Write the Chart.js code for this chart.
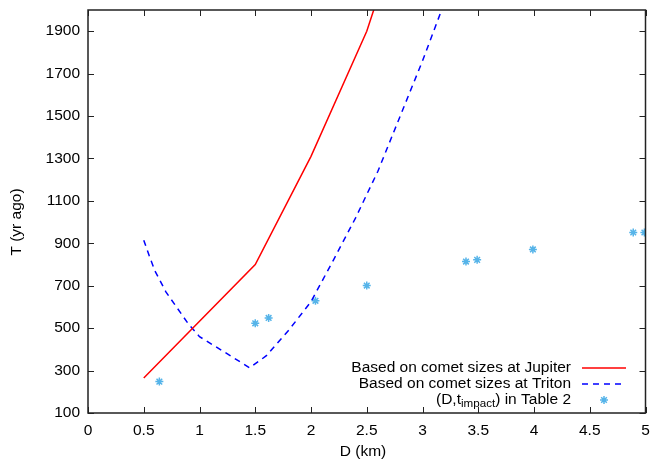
<!DOCTYPE html>
<html>
<head>
<meta charset="utf-8">
<script src="https://cdn.jsdelivr.net/npm/chart.js@4.4.0/dist/chart.umd.min.js"></script>
<style>
  html, body { margin: 0; padding: 0; background: #fff; }
  #wrap { width: 651px; height: 463px; }
</style>
</head>
<body>
<div id="wrap"><canvas id="chart" width="651" height="463"></canvas></div>
<script>
// tick labels
const xTicks = [0, 0.5, 1, 1.5, 2, 2.5, 3, 3.5, 4, 4.5, 5];
const yTicks = [100, 300, 500, 700, 900, 1100, 1300, 1500, 1700, 1900];

// Jupiter based curve
const jupiterD = [0.5, 1.5, 2.0, 2.5, 3.0];
const jupiterT = [265, 800, 1310, 1900, 2700];

// Triton based curve
const tritonD = [0.5, 0.55, 0.6, 0.7, 0.8, 0.9, 1.0, 1.2, 1.45, 1.6, 1.8, 2.0, 2.2, 2.4, 2.6, 2.8, 3.0, 3.2];
const tritonT = [915, 840, 770, 670, 595, 520, 460, 395, 313, 370, 490, 625, 820, 1020, 1240, 1500, 1760, 2040];

// (D, t_impact) from Table 2
const tableD = [0.64, 1.5, 1.62, 2.04, 2.5, 3.39, 3.49, 3.99, 4.89, 4.99];
const tableT = [248, 523, 548, 629, 701, 814, 822, 871, 951, 951];

const FONT = '"Liberation Sans", Arial, sans-serif';
const FS = 15.5;
const STAR = '#56b4e9';

const toXY = (xs, ys) => xs.map((x, i) => ({ x: x, y: ys[i] }));

// frame with inward ticks on all four sides, axis titles, legend
const framePlugin = {
  id: 'frame',
  afterDraw(chart) {
    const ctx = chart.ctx;
    const a = chart.chartArea;
    const xs = chart.scales.x, ys = chart.scales.y;
    ctx.save();
    ctx.strokeStyle = '#222';
    ctx.lineWidth = 1;
    ctx.beginPath();
    xTicks.forEach(v => {
      const px = Math.round(xs.getPixelForValue(v)) + 0.5;
      ctx.moveTo(px, a.bottom); ctx.lineTo(px, a.bottom - 6);
      ctx.moveTo(px, a.top); ctx.lineTo(px, a.top + 6);
    });
    yTicks.forEach(v => {
      const py = Math.round(ys.getPixelForValue(v)) + 0.5;
      ctx.moveTo(a.left, py); ctx.lineTo(a.left + 6, py);
      ctx.moveTo(a.right, py); ctx.lineTo(a.right - 6, py);
    });
    ctx.stroke();
    ctx.lineWidth = 1.5;
    ctx.strokeRect(a.left, a.top, a.right - a.left, a.bottom - a.top);

    // axis titles
    ctx.fillStyle = '#000';
    ctx.font = FS + 'px ' + FONT;
    ctx.textAlign = 'center';
    ctx.textBaseline = 'middle';
    ctx.fillText('D (km)', 363, 452);
    ctx.translate(17, 222);
    ctx.rotate(-Math.PI / 2);
    ctx.fillText('T (yr ago)', 0, 0);
    ctx.restore();

    // legend
    ctx.save();
    ctx.fillStyle = '#000';
    ctx.font = FS + 'px ' + FONT;
    ctx.textBaseline = 'middle';
    ctx.textAlign = 'right';
    const tx = 571;
    ctx.fillText('Based on comet sizes at Jupiter', tx, 368);
    ctx.fillText('Based on comet sizes at Triton', tx, 384);
    // third row with subscript
    const p1 = '(D,t', sub = 'impact', p2 = ') in Table 2';
    const w2 = ctx.measureText(p2).width;
    const w1 = ctx.measureText(p1).width;
    ctx.font = (FS * 0.75) + 'px ' + FONT;
    const ws = ctx.measureText(sub).width;
    ctx.textAlign = 'left';
    const x0 = tx - w2 - ws - w1;
    ctx.font = FS + 'px ' + FONT;
    ctx.fillText(p1, x0, 400);
    ctx.font = (FS * 0.75) + 'px ' + FONT;
    ctx.fillText(sub, x0 + w1, 404);
    ctx.font = FS + 'px ' + FONT;
    ctx.fillText(p2, x0 + w1 + ws, 400);

    ctx.lineWidth = 1.5;
    ctx.strokeStyle = '#ff0000';
    ctx.beginPath(); ctx.moveTo(582, 368); ctx.lineTo(626, 368); ctx.stroke();
    ctx.strokeStyle = '#0000ff';
    ctx.setLineDash([6, 5]);
    ctx.beginPath(); ctx.moveTo(582, 384); ctx.lineTo(626, 384); ctx.stroke();
    ctx.setLineDash([]);
    ctx.strokeStyle = STAR;
    ctx.fillStyle = STAR;
    Chart.helpers.drawPoint(ctx, { pointStyle: 'star', radius: 4, borderWidth: 1.5 }, 604, 400);
    ctx.restore();
  }
};

Chart.defaults.font.family = FONT;
Chart.defaults.font.size = FS;
Chart.defaults.color = '#000';

const noPad = s => { s.paddingTop = 0; s.paddingBottom = 0; s.paddingLeft = 0; s.paddingRight = 0; };

new Chart(document.getElementById('chart'), {
  type: 'scatter',
  data: {
    datasets: [
      {
        label: 'Based on comet sizes at Jupiter',
        data: toXY(jupiterD, jupiterT),
        showLine: true,
        borderColor: '#ff0000',
        borderWidth: 1.5,
        pointRadius: 0,
        tension: 0
      },
      {
        label: 'Based on comet sizes at Triton',
        data: toXY(tritonD, tritonT),
        showLine: true,
        borderColor: '#0000ff',
        borderWidth: 1.5,
        borderDash: [6, 5],
        pointRadius: 0,
        tension: 0
      },
      {
        label: '(D,t_impact) in Table 2',
        data: toXY(tableD, tableT),
        showLine: false,
        pointStyle: 'star',
        pointRadius: 4,
        borderColor: STAR,
        backgroundColor: STAR,
        borderWidth: 1.5
      }
    ]
  },
  options: {
    responsive: false,
    animation: false,
    events: [],
    layout: { padding: { top: 10, right: 5, left: 0, bottom: 0 } },
    plugins: {
      legend: { display: false },
      tooltip: { enabled: false }
    },
    scales: {
      x: {
        type: 'linear',
        min: 0,
        max: 5,
        grid: { display: false, drawTicks: false },
        border: { display: false },
        afterBuildTicks: s => { s.ticks = xTicks.map(v => ({ value: v })); },
        afterFit: s => { s.height = 50; noPad(s); },
        ticks: { padding: 8, maxRotation: 0, autoSkip: false, callback: v => String(v) }
      },
      y: {
        type: 'linear',
        min: 100,
        max: 2000,
        grid: { display: false, drawTicks: false },
        border: { display: false },
        afterBuildTicks: s => { s.ticks = yTicks.map(v => ({ value: v })); },
        afterFit: s => { s.width = 88; noPad(s); },
        ticks: { padding: 8, autoSkip: false, callback: v => String(v) }
      }
    }
  },
  plugins: [framePlugin]
});
</script>
</body>
</html>
